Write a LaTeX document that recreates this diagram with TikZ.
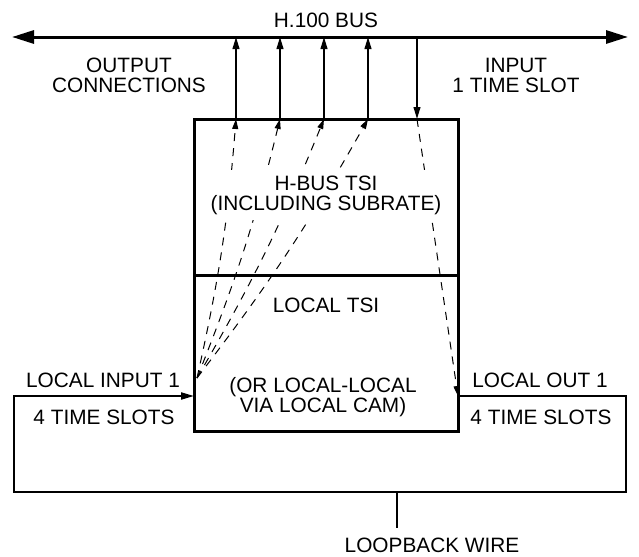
\documentclass[tikz,border=0pt]{standalone}
\usepackage{fontspec}
\setmainfont{Liberation Sans}
\usetikzlibrary{arrows.meta,positioning}

\begin{document}
\begin{tikzpicture}[x=0.5pt,y=-0.5pt,>={Triangle[length=6pt,width=3.4pt]},
 every node/.style={align=center,inner sep=0pt,font=\fontsize{10.4}{10}\selectfont},
 tsibox/.style={draw,line width=1.5pt,outer sep=0pt,minimum width=132pt,minimum height=78pt},
 boxtext/.style={fill=white,inner sep=3pt},
 wire/.style={line width=1pt},
 link/.style={line width=0.8pt,->},
 fanline/.style={line width=0.5pt,dash pattern=on 4pt off 3.5pt,->,>={Triangle[length=5pt,width=3pt]}}]
\useasboundingbox (0,0) rectangle (639,557);
% bus
\coordinate (busL) at (12,37);
\coordinate (busR) at (628,37);
\draw[line width=1.5pt,<->,>={Triangle[length=11pt,width=6.5pt]}] (busL) -- (busR);
\node (busname) at (326,20) {H.100 BUS};
\node (outconn) at (129,75) {OUTPUT\\CONNECTIONS};
\node (inslot) at (516,75) {INPUT\\1 TIME SLOT};
% switch boxes
\node[tsibox] (hbus) at (326,197) {};
\node[tsibox,below=0pt of hbus] (local) {};
% bus connections
\foreach \x [count=\i] in {236,280,324,368} {
  \coordinate (out\i) at (\x,119);
  \draw[link] (out\i) -- (out\i |- busL);
}
\coordinate (in1) at (417,119);
\draw[link] (in1 |- busL) -- (in1);
% paths through the TSI
\coordinate (fan) at (197,378);
\coordinate (locin) at (194,396);
\coordinate (locout) at (458,396);
\foreach \i in {1,...,4}
  \draw[fanline] (fan) to[bend right=4] (out\i);
\draw[fanline] (in1) -- (locout);
\node[boxtext] (hbustext) at (326,195) {H-BUS TSI\\(INCLUDING SUBRATE)};
\node[boxtext] (localtsi) at (326,305) {LOCAL TSI};
\node[boxtext] (localcam) at (323,397) {(OR LOCAL-LOCAL\\VIA LOCAL CAM)};
% loopback
\coordinate (loopbr) at (626,492);
\coordinate (loopbl) at (14,492);
\coordinate (stub) at (397,492);
\draw[wire,->,>={Triangle[length=6.5pt,width=3.5pt]}] (locout) -| (loopbr) -- (loopbl) |- (locin);
\draw[wire] (stub) -- ++(0,36);
\node (locinlabel) at (103,380) {LOCAL INPUT 1};
\node (locinslots) at (104,417) {4 TIME SLOTS};
\node (locoutlabel) at (540,380) {LOCAL OUT 1};
\node (locoutslots) at (541,417) {4 TIME SLOTS};
\node (loopback) at (432,545) {LOOPBACK WIRE};
\end{tikzpicture}
\end{document}
